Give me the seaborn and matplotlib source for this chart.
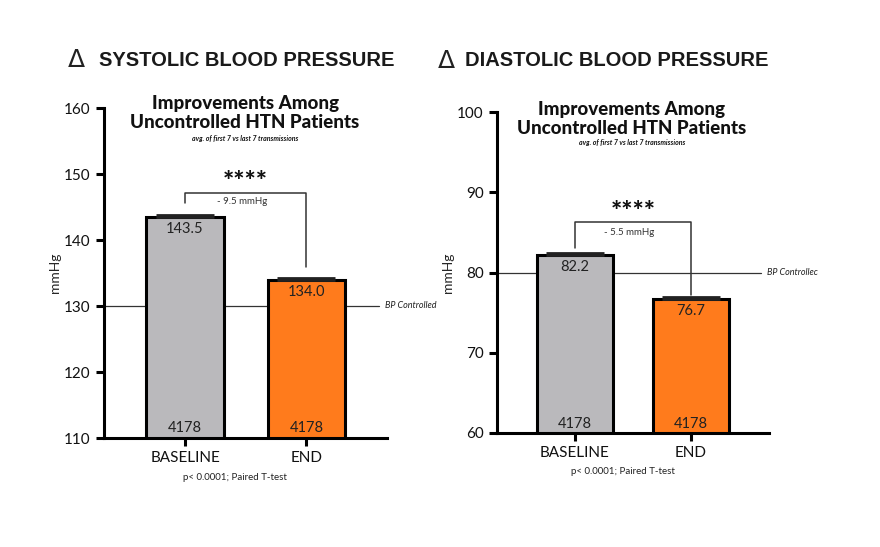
import numpy as np
import pandas as pd
import matplotlib
matplotlib.use("Agg")
import matplotlib.pyplot as plt
import seaborn as sns

# data
groups = ["BASELINE", "END"]
sbp_mean = [143.5, 134.0]
sbp_sem = [0.25, 0.25]
dbp_mean = [82.2, 76.7]
dbp_sem = [0.2, 0.2]
n_patients = [4178, 4178]
sbp_change = "- 9.5 mmHg"
dbp_change = "- 5.5 mmHg"
sbp_target = 130
dbp_target = 80

bar_colors = ["#BAB9BC", "#FF7B1C"]

sns.set_theme(style="ticks")
plt.rcParams["font.family"] = ["Lato", "DejaVu Sans"]

fig = plt.figure(figsize=(8.8, 5.47), dpi=100)
fig.patch.set_facecolor("white")

def px(x, y):
    return x / 880, 1 - y / 547

ax1 = fig.add_axes([104 / 880, 1 - 438 / 547, 283 / 880, 330 / 547])
ax2 = fig.add_axes([497 / 880, 1 - 433 / 547, 272 / 880, 321 / 547])


def draw(ax, means, sems, ylim, yticks, target, target_lbl, change,
         bkt_top, bkt_l, bkt_r, star_y, chg_y, n_y, xlim, width):
    df = pd.DataFrame({"group": groups, "value": means})
    sns.barplot(data=df, x="group", y="value", hue="group", palette=bar_colors,
                saturation=1, edgecolor="black", linewidth=2.2, width=width,
                errorbar=None, legend=False, ax=ax, zorder=2)
    ax.errorbar([0, 1], means, yerr=[[0, 0], sems], fmt="none", ecolor="#222222",
                elinewidth=1.2, capsize=21, capthick=2, zorder=3)
    ax.set_ylim(*ylim)
    ax.set_xlim(*xlim)
    ax.set_yticks(yticks)
    ax.axhline(target, color="#333333", lw=0.9, xmax=0.97, zorder=1)
    ax.text(xlim[1] - 0.02 * (xlim[1] - xlim[0]) + 0.03, target, target_lbl,
            fontsize=6.5, style="italic", va="center", ha="left",
            clip_on=False, color="#222222")
    # bracket
    ax.plot([0, 0, 1, 1], [bkt_l, bkt_top, bkt_top, bkt_r], color="#333333",
            lw=1.1, zorder=4)
    ax.text(0.5, star_y, "****", ha="center", va="center", fontsize=19,
            fontweight="black", color="#111111")
    ax.text(0.47, chg_y, change, ha="center", va="center", fontsize=7,
            color="#333333")
    for i, m in enumerate(means):
        ax.text(i, m - 0.015 * (ylim[1] - ylim[0]), f"{m:.1f}", ha="center",
                va="top", fontsize=10.5, color="#222222", zorder=5)
        ax.text(i, n_y, str(n_patients[i]), ha="center", va="center",
                fontsize=10.5, color="#222222", zorder=5)
    sns.despine(ax=ax)
    for s in ["left", "bottom"]:
        ax.spines[s].set_linewidth(2.2)
        ax.spines[s].set_color("black")
    ax.tick_params(axis="both", width=2.2, length=6, color="black",
                   labelsize=11, labelcolor="#111111", direction="out")
    ax.set_xlabel("")
    ax.set_ylabel("mmHg", fontsize=10, labelpad=2)
    ax.set_facecolor("white")


draw(ax1, sbp_mean, sbp_sem, (110, 160), [110, 120, 130, 140, 150, 160],
     sbp_target, "BP Controlled", sbp_change, 147.1, 145.6, 135.9, 148.8,
     145.8, 111.5, (-0.667, 1.663), 0.64)
draw(ax2, dbp_mean, dbp_sem, (60, 100), [60, 70, 80, 90, 100],
     dbp_target, "BP Controllec", dbp_change, 86.25, 83.0, 77.25, 87.5,
     85.0, 61.1, (-0.672, 1.672), 0.655)

# section titles
for xd, xt, y, label in [(68, 99, 60, "SYSTOLIC BLOOD PRESSURE"),
                         (438, 465, 61, "DIASTOLIC BLOOD PRESSURE")]:
    fig.text(*px(xd, y), "\u0394", fontsize=18, va="center", ha="left",
             family=["DejaVu Sans"], color="#222222")
    fig.text(*px(xt, y), label, fontsize=14.5, fontweight="bold", va="center",
             ha="left", family=["Liberation Sans", "DejaVu Sans"], color="#1a1a1a")

# chart titles
for cx, y1, y2, y3 in [(245, 103, 123, 138), (632, 110, 128, 143)]:
    fig.text(*px(cx, y1), "Improvements Among", fontsize=13.5, fontweight="black",
             ha="center", va="center", color="#111111")
    fig.text(*px(cx, y2), "Uncontrolled HTN Patients", fontsize=13.5,
             fontweight="black", ha="center", va="center", color="#111111")
    fig.text(*px(cx, y3), "avg. of first 7 vs last 7 transmissions", fontsize=5,
             fontweight="bold", style="italic", ha="center", va="center",
             color="#111111")

fig.text(*px(235, 478), "p< 0.0001; Paired T-test", fontsize=7, ha="center",
         va="center", color="#222222")
fig.text(*px(623, 472), "p< 0.0001; Paired T-test", fontsize=7, ha="center",
         va="center", color="#222222")

fig.savefig("out.png", dpi=100, facecolor="white")
